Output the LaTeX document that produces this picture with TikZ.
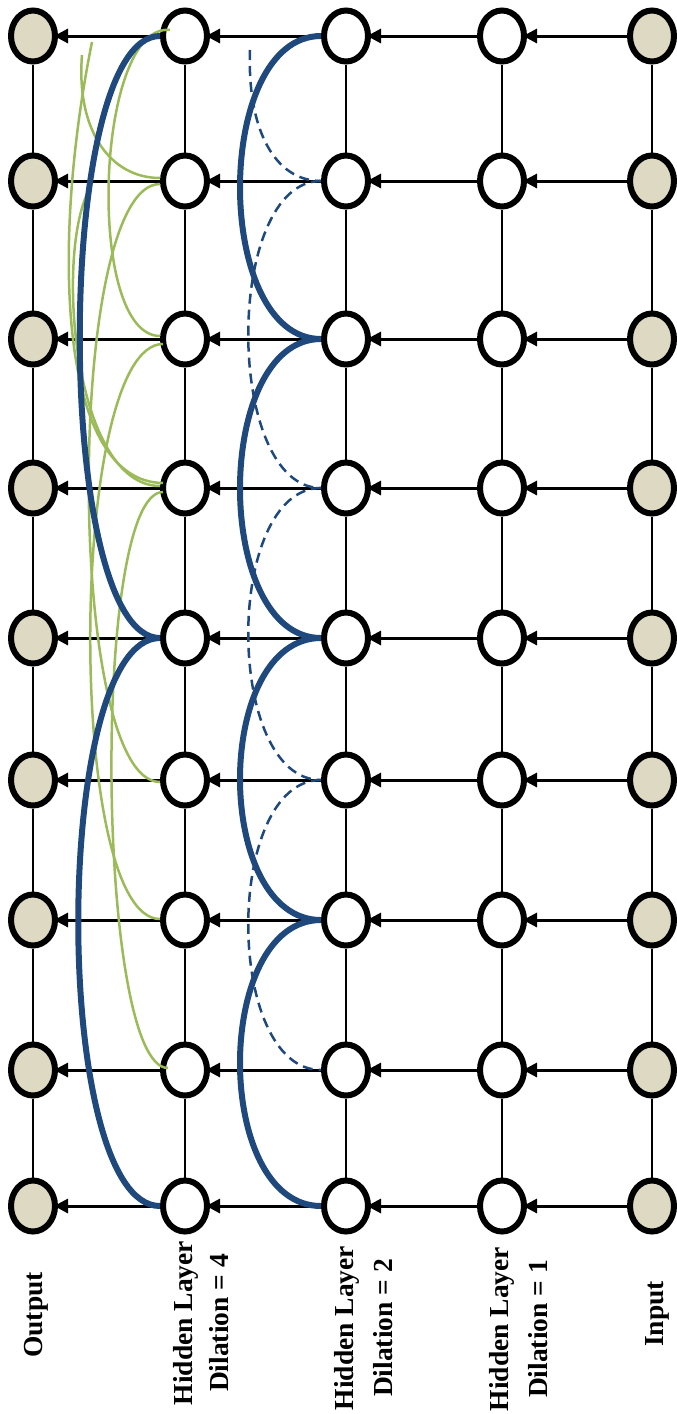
\documentclass[tikz,border=0pt]{standalone}
\usepackage{fontspec}
\setmainfont{Liberation Serif}
\usetikzlibrary{shapes.geometric,arrows.meta,calc}
\definecolor{beige}{RGB}{221,217,195}
\definecolor{navy}{RGB}{31,73,125}
\definecolor{leaf}{RGB}{155,187,89}
\begin{document}
\begin{tikzpicture}[x=1pt,y=-1pt,
  unit/.style={ellipse,draw=black,line width=6pt,minimum width=44pt,minimum height=51pt,inner sep=0pt,fill=white},
  io/.style={unit,fill=beige},
  vline/.style={line width=2pt},
  arr/.style={line width=3pt,-{Triangle[length=14pt,width=14pt]},shorten >=-4pt},
  bluearc/.style={navy,line width=6pt},
  dasharc/.style={navy,line width=2.5pt,dash pattern=on 10pt off 6pt},
  greenarc/.style={leaf,line width=2.5pt},
  lbl/.style={font=\fontsize{27.5}{33}\selectfont\bfseries,rotate=90,inner sep=0pt}]
\useasboundingbox (0,0) rectangle (677,1414);
% nodes
\foreach \i/\y in {0/36,1/181,2/339,3/488,4/638,5/780,6/920,7/1070,8/1206}{
  \node[io]   (out-\i) at (33,\y)  {};
  \node[unit] (h4-\i)  at (185,\y) {};
  \node[unit] (h2-\i)  at (346,\y) {};
  \node[unit] (h1-\i)  at (502,\y) {};
  \node[io]   (in-\i)  at (652,\y) {};
}
% vertical links
\foreach \i in {0,...,7}{
  \pgfmathtruncatemacro{\j}{\i+1}
  \draw[vline] (out-\i) -- (out-\j);
  \draw[vline] (h4-\i) -- (h4-\j);
  \draw[vline] (h2-\i) -- (h2-\j);
  \draw[vline] (h1-\i) -- (h1-\j);
  \draw[vline] (in-\i) -- (in-\j);
}
% horizontal arrows
\foreach \i in {0,...,8}{
  \draw[arr] (in-\i) -- (h1-\i);
  \draw[arr] (h1-\i) -- (h2-\i);
  \draw[arr] (h2-\i) -- (h4-\i);
  \draw[arr] (h4-\i) -- (out-\i);
}
% dilation 2: solid arcs
\foreach \a/\b in {0/2,2/4,4/6,6/8}{
  \draw[bluearc] (h2-\a.west) .. controls +(-108,0) and +(-108,0) .. (h2-\b.west);
}
% dilation 2: dashed arcs
\coordinate (dtop) at (250,50);
\draw[dasharc] (dtop) .. controls (247,130) and (275,181) .. (h2-1.west);
\foreach \a/\b in {1/3,3/5,5/7}{
  \draw[dasharc] (h2-\a.west) .. controls +(-97,0) and +(-97,0) .. (h2-\b.west);
}
% dilation 4: green arcs
\coordinate (ga) at (82,55);
\coordinate (gb) at (92,42);
\coordinate (gc) at (88,192);
\coordinate (gh) at (170,30);
\draw[greenarc] (ga) .. controls (76,130) and (110,178) .. ($(h4-1.west)+(0,-3)$);
\draw[greenarc] (gh) .. controls (95,22) and (85,336) .. ($(h4-2.west)+(0,-3)$);
\draw[greenarc] (gb) .. controls (50,250) and (60,482) .. ($(h4-3.west)+(3,-5)$);
\draw[greenarc] (gc) .. controls (55,260) and (75,486) .. ($(h4-3.west)+(0,-2)$);
\draw[greenarc] ($(h4-1.west)+(0,3)$) .. controls +(-95,0) and +(-95,0) .. ($(h4-5.west)+(0,2)$);
\draw[greenarc] ($(h4-2.west)+(3,5)$) .. controls +(-95,0) and +(-95,0) .. ($(h4-6.west)+(0,-1)$);
\draw[greenarc] ($(h4-3.west)+(3,4)$) .. controls +(-72,0) and +(-72,0) .. ($(h4-7.west)+(8,-2)$);
% dilation 4: solid arcs
\draw[bluearc] (h4-0.west) .. controls +(-107,0) and +(-107,0) .. (h4-4.west);
\draw[bluearc] (h4-4.west) .. controls +(-109,0) and +(-109,0) .. (h4-8.west);
% labels
\node[lbl] (t-out) at (36,1315) {Output};
\node[lbl] (t-h4a) at (186,1323) {Hidden Layer};
\node[lbl] (t-h4b) at (219,1323) {Dilation = 4};
\node[lbl] (t-h2a) at (347,1328) {Hidden Layer};
\node[lbl] (t-h2b) at (383,1328) {Dilation = 2};
\node[lbl] (t-h1a) at (502,1329) {Hidden Layer};
\node[lbl] (t-h1b) at (538,1329) {Dilation = 1};
\node[lbl] (t-in) at (657,1314) {Input};
\end{tikzpicture}
\end{document}
